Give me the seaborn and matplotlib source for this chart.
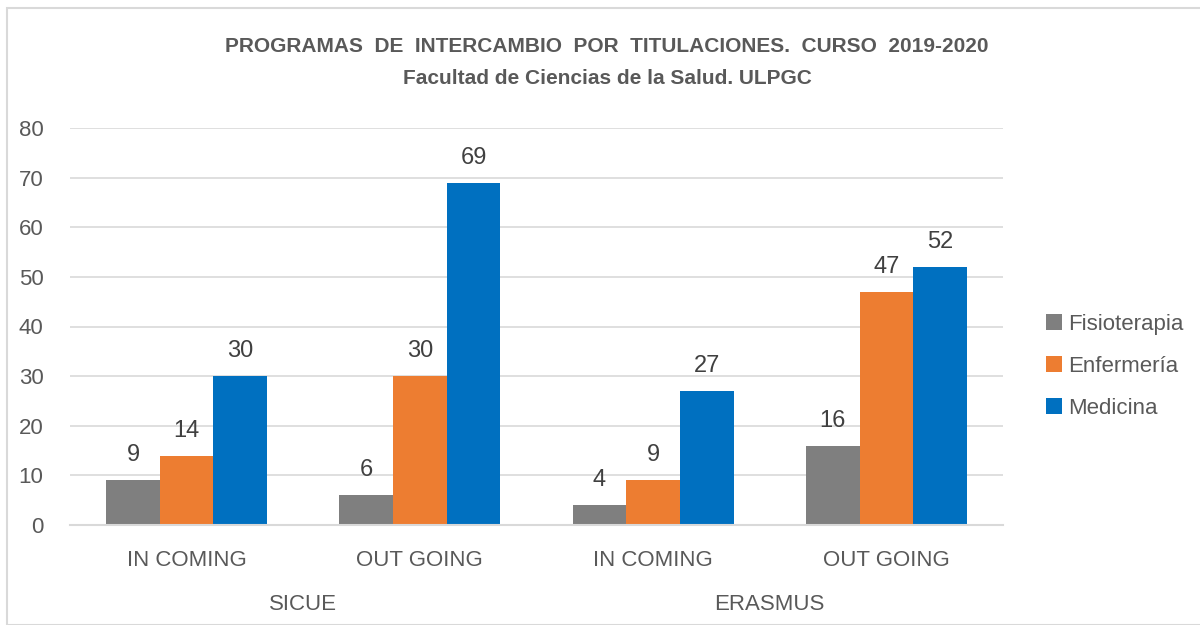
import matplotlib
matplotlib.use("Agg")
import matplotlib.pyplot as plt
import seaborn as sns
import pandas as pd
from matplotlib.patches import Rectangle

programs = ["SICUE", "SICUE", "ERASMUS", "ERASMUS"]
directions = ["IN COMING", "OUT GOING", "IN COMING", "OUT GOING"]
series = ["Fisioterapia", "Enfermería", "Medicina"]
fisioterapia = [9, 6, 4, 16]
enfermeria = [14, 30, 9, 47]
medicina = [30, 69, 27, 52]
colors = ["#7f7f7f", "#ed7d31", "#0070c0"]
yticks = [0, 10, 20, 30, 40, 50, 60, 70, 80]

cats = [f"{p}|{d}" for p, d in zip(programs, directions)]
rows = []
for name, vals in zip(series, [fisioterapia, enfermeria, medicina]):
    for c, v in zip(cats, vals):
        rows.append({"cat": c, "serie": name, "valor": v})
df = pd.DataFrame(rows)

sns.set_theme(style="white")
plt.rcParams["font.family"] = ["Liberation Sans", "DejaVu Sans"]
txt = "#595959"

fig = plt.figure(figsize=(12, 6.25), dpi=100)
fig.patches.append(Rectangle((7/1200, 0), 1.2, 1 - 8/625, transform=fig.transFigure,
                             fill=False, edgecolor="#d9d9d9", linewidth=1.5))
ax = fig.add_axes([70/1200, 1 - 525/625, 933/1200, 397/625])

sns.barplot(data=df, x="cat", y="valor", hue="serie", order=cats, hue_order=series,
            palette=colors, width=0.69, saturation=1, ax=ax, legend=True, linewidth=0)

ax.set_ylim(0, 80)
ax.set_yticks(yticks)
ax.set_yticklabels([str(t) for t in yticks], fontsize=16, color=txt)
ax.tick_params(axis="y", length=0, pad=19)
ax.tick_params(axis="x", length=0, pad=18)
ax.set_xticks(range(len(cats)))
ax.set_xticklabels(directions, fontsize=16, color=txt)
ax.set_xlabel("")
ax.set_ylabel("")
ax.yaxis.grid(True, color="#d9d9d9", linewidth=1.2)
ax.set_axisbelow(True)
for s in ["top", "right", "left"]:
    ax.spines[s].set_visible(False)
ax.spines["bottom"].set_color("#d9d9d9")
ax.spines["bottom"].set_linewidth(1.5)

for cont in ax.containers:
    ax.bar_label(cont, labels=[f"{int(v)}" for v in cont.datavalues], padding=10,
                 fontsize=17, color="#404040")

for i, p in [(0.5, "SICUE"), (2.5, "ERASMUS")]:
    ax.text(i, -0.2, p, transform=ax.get_xaxis_transform(), ha="center", va="center",
            fontsize=16, color=txt)

fig.text(607/1200, 1 - 47/625, "PROGRAMAS  DE  INTERCAMBIO  POR  TITULACIONES.  CURSO  2019-2020",
         ha="center", va="center", fontsize=15, fontweight="bold", color=txt)
fig.text(607/1200, 1 - 79/625, "Facultad de Ciencias de la Salud. ULPGC",
         ha="center", va="center", fontsize=15, fontweight="bold", color=txt)

leg = ax.legend(loc="center left", bbox_to_anchor=(1.025, 0.40), frameon=False,
                fontsize=16, handlelength=0.7, handleheight=0.7, labelspacing=0.95,
                handletextpad=0.3)
for t in leg.get_texts():
    t.set_color(txt)

fig.savefig("out.png", dpi=100)
